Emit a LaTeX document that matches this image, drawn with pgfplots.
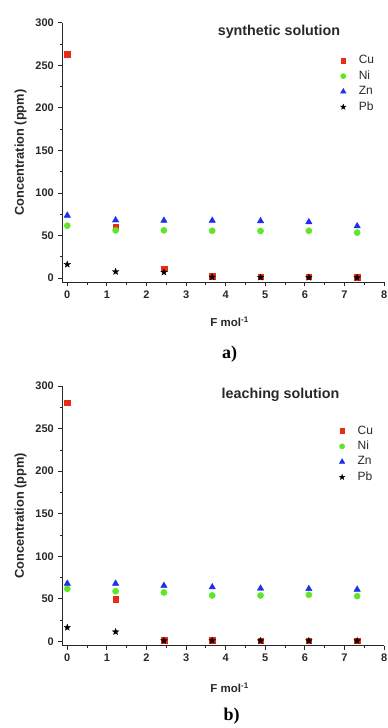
\documentclass[border=0pt]{standalone}
\usepackage{pgfplots}
\pgfplotsset{compat=1.18}
\usepackage{fontspec}
\setmainfont{Liberation Sans}
\newfontfamily\serifbf{Liberation Serif}
\definecolor{cured}{RGB}{232,44,24}
\definecolor{nigreen}{RGB}{96,230,40}
\definecolor{znblue}{RGB}{28,48,236}
\definecolor{axgray}{RGB}{40,40,40}

\pgfdeclareplotmark{fstar}{%
  \pgfpathmoveto{\pgfpointpolar{90}{\pgfplotmarksize}}%
  \pgfpathlineto{\pgfpointpolar{126}{0.42\pgfplotmarksize}}%
  \pgfpathlineto{\pgfpointpolar{162}{\pgfplotmarksize}}%
  \pgfpathlineto{\pgfpointpolar{198}{0.42\pgfplotmarksize}}%
  \pgfpathlineto{\pgfpointpolar{234}{\pgfplotmarksize}}%
  \pgfpathlineto{\pgfpointpolar{270}{0.42\pgfplotmarksize}}%
  \pgfpathlineto{\pgfpointpolar{306}{\pgfplotmarksize}}%
  \pgfpathlineto{\pgfpointpolar{342}{0.42\pgfplotmarksize}}%
  \pgfpathlineto{\pgfpointpolar{18}{\pgfplotmarksize}}%
  \pgfpathlineto{\pgfpointpolar{54}{0.42\pgfplotmarksize}}%
  \pgfpathclose
  \pgfusepathqfillstroke}

\pgfplotstableread{
x     cu    ni    zn    pb
0     263   61.5  73.5  16
1.22  60    56    68    7.5
2.44  11    56    67.5  6.8
3.66  2     55.5  67.5  1.2
4.88  1.8   55.3  67    0.8
6.10  1.4   55.5  65.8  0.6
7.32  1.0   53.4  61    0.5
}\synth
\pgfplotstableread{
x     cu    ni    zn    pb
0     280.5 61.8  68    16.4
1.22  49.3  59    68    11.3
2.44  1.5   57.5  65.5  1.0
3.66  1.2   54    63.8  1.0
4.88  1.0   54    62.3  0.8
6.10  1.0   54.8  61.8  0.8
7.32  1.0   53.2  61    0.8
}\leach

\pgfplotsset{
  conc/.style={
    scale only axis,
    width=321.8pt, height=259.6pt,
    xmin=-0.126, xmax=8, ymin=-5, ymax=300,
    axis x line*=bottom, axis y line*=left,
    axis line style={line width=0.9pt, color=axgray},
    xtick={0,1,...,8}, ytick={0,50,...,300},
    minor x tick num=1, minor y tick num=1,
    tick align=outside,
    major tick length=4pt, minor tick length=2.5pt,
    every tick/.style={line width=0.8pt, color=axgray},
    tick label style={font=\bfseries\fontsize{11}{12}\selectfont, color=axgray},
    /pgf/number format/assume math mode=true,
    xticklabel style={yshift=-1pt},
    yticklabel style={xshift=-1pt},
    ylabel={Concentration (ppm)},
    every axis y label/.style={at={(axis description cs:-0.13,0.5)}, rotate=90, anchor=center, font=\bfseries\fontsize{12.8}{14}\selectfont, color=axgray},
    xlabel={F mol\textsuperscript{-1}},
    legend style={draw=none, fill=none, inner sep=0pt, anchor=north west,
      font=\fontsize{12}{13}\selectfont, text=axgray,
      nodes={inner sep=1pt, text height=8.5pt, text depth=2.3pt},
      row sep=2.6pt},
    legend image code/.code={\path[draw=none,fill=none] (0pt,0pt) -- (23pt,0pt); \draw[#1,every mark/.append style={scale=0.85}] plot coordinates {(8.5pt,0pt)};},
    legend cell align=left,
  },
  cu/.style={only marks, mark=square*, mark size=2.8pt, color=cured, mark options={draw=cured, fill=cured}},
  ni/.style={only marks, mark=*, mark size=3.1pt, color=nigreen, mark options={draw=nigreen, fill=nigreen}},
  zn/.style={only marks, mark=triangle*, mark size=3.7pt, color=znblue, mark options={draw=znblue, fill=znblue}},
  pb/.style={only marks, mark=fstar, mark size=3.4pt, color=black, mark options={draw=black, fill=black, line width=0.3pt}},
}

\begin{document}
\begin{tikzpicture}
\path[use as bounding box] (0pt,0pt) rectangle (388pt,728pt);

% top panel
\begin{axis}[conc, at={(62.3pt,445.7pt)}, anchor=south west,
  every axis x label/.style={at={(axis description cs:0.52,0)}, anchor=base, yshift=-44.5pt, font=\bfseries\fontsize{11.5}{13}\selectfont, color=axgray},
  legend style={at={(axis cs:6.75,263)}}]
\addplot[cu] table[x=x,y=cu] {\synth};
\addplot[ni] table[x=x,y=ni] {\synth};
\addplot[zn] table[x=x,y=zn] {\synth};
\addplot[pb] table[x=x,y=pb] {\synth};
\legend{Cu,Ni,Zn,Pb}
\end{axis}
\node[font=\bfseries\fontsize{14.3}{16}\selectfont, color=axgray] at (279pt,696pt) {synthetic solution};
\node[font=\serifbf\bfseries\fontsize{18}{20}\selectfont] at (229.5pt,373.5pt) {a)};

% bottom panel
\begin{axis}[conc, at={(62.3pt,82.3pt)}, anchor=south west,
  every axis x label/.style={at={(axis description cs:0.52,0)}, anchor=base, yshift=-47pt, font=\bfseries\fontsize{11.5}{13}\selectfont, color=axgray},
  legend style={at={(axis cs:6.72,255)}}]
\addplot[cu] table[x=x,y=cu] {\leach};
\addplot[ni] table[x=x,y=ni] {\leach};
\addplot[zn] table[x=x,y=zn] {\leach};
\addplot[pb] table[x=x,y=pb] {\leach};
\legend{Cu,Ni,Zn,Pb}
\end{axis}
\node[font=\bfseries\fontsize{14.3}{16}\selectfont, color=axgray] at (280.5pt,333pt) {leaching solution};
\node[font=\serifbf\bfseries\fontsize{18}{20}\selectfont] at (231.5pt,11.5pt) {b)};
\end{tikzpicture}
\end{document}
